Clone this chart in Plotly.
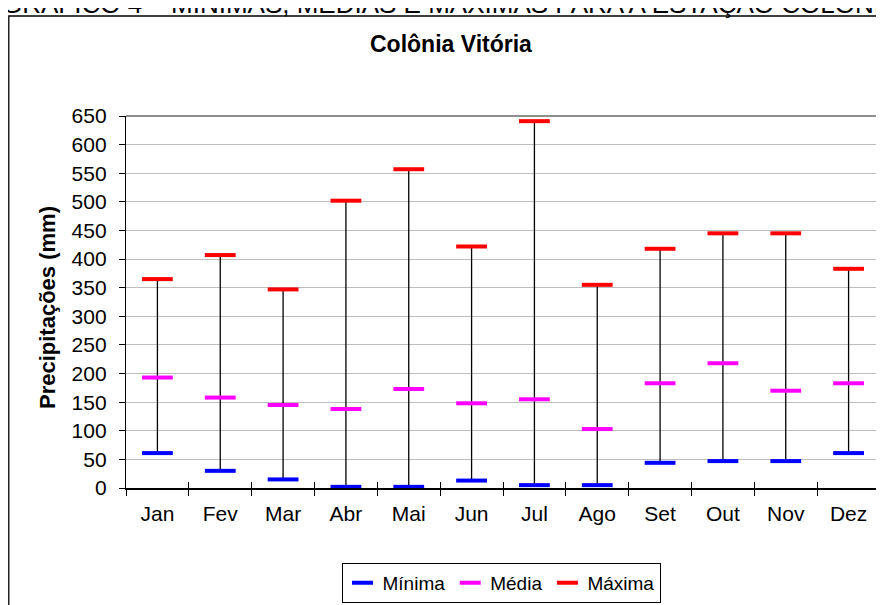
import plotly.graph_objects as go

months = ["Jan", "Fev", "Mar", "Abr", "Mai", "Jun", "Jul", "Ago", "Set", "Out", "Nov", "Dez"]
minima = [61, 30, 15, 2, 2, 13, 5, 5, 44, 47, 47, 61]
media = [193, 158, 145, 138, 173, 148, 155, 103, 183, 218, 170, 183]
maxima = [365, 407, 347, 502, 557, 422, 641, 355, 418, 445, 445, 383]
y_ticks = list(range(0, 651, 50))

FONT = "Liberation Sans, Arial, sans-serif"
W, H = 884, 605
OFF = 8  # page body margin of the html page
# plot area in screen pixels
SX0, SX1, SY0, SY1 = 126, 880, 116, 488
ML, MT = SX0 - OFF, SY0 - OFF
MR, MB = W - (SX1 - OFF), H - (SY1 - OFF)
PW, PH = SX1 - SX0, SY1 - SY0


def px_x(s):
    return (s - SX0) / PW


def px_y(s):
    return (SY1 - s) / PH


fig = go.Figure()

# vertical range lines (min -> max)
vx, vy = [], []
for m, lo, hi in zip(months, minima, maxima):
    vx += [m, m, None]
    vy += [lo, hi, None]
fig.add_trace(go.Scatter(x=vx, y=vy, mode="lines", line=dict(color="black", width=1.3),
                         showlegend=False, hoverinfo="skip"))

series = [("Mínima", minima, "#0000FF"), ("Média", media, "#FF00FF"),
          ("Máxima", maxima, "#FF0000")]
for name, vals, col in series:
    fig.add_trace(go.Scatter(x=months, y=vals, mode="markers", name=name, showlegend=False,
                             marker=dict(symbol="line-ew", size=22,
                                         line=dict(color=col, width=4), color=col)))
# legend entries (shorter symbols like the reference)
for name, vals, col in series:
    fig.add_trace(go.Scatter(x=[None], y=[None], mode="markers", name=name,
                             marker=dict(symbol="line-ew", size=15,
                                         line=dict(color=col, width=4), color=col)))

# invisible helper trace for crossing ticks axis
fig.add_trace(go.Scatter(x=[-0.5, 11.5], y=[0, 0], xaxis="x2", mode="markers",
                         marker=dict(opacity=0), showlegend=False, hoverinfo="skip"))

fig.update_layout(
    width=W, height=H,
    margin=dict(l=ML, r=MR, t=MT, b=MB, autoexpand=False),
    paper_bgcolor="white", plot_bgcolor="white",
    font=dict(family=FONT, size=21, color="black"),
    xaxis=dict(type="category", categoryorder="array", categoryarray=months,
               range=[-0.5, 11.5], showgrid=False, showline=True, linecolor="black",
               linewidth=1.5, ticks="outside", ticklen=6, tickcolor="black", tickwidth=1.3,
               tickson="boundaries", tickfont=dict(size=21), ticklabelstandoff=6,
               zeroline=False, automargin=False),
    xaxis2=dict(overlaying="x", anchor="y", range=[-0.5, 11.5], showgrid=False,
                showline=False, ticks="inside", ticklen=6, tickcolor="black", tickwidth=1.3,
                tickmode="array", tickvals=[i - 0.5 for i in range(len(months) + 1)],
                showticklabels=False, zeroline=False, side="bottom"),
    yaxis=dict(range=[0, 650], tickmode="array", tickvals=y_ticks,
               showgrid=True, gridcolor="#bdbdbd", gridwidth=1,
               showline=True, linecolor="black", linewidth=1.3,
               ticks="outside", ticklen=6, tickcolor="black", tickwidth=1.3,
               tickfont=dict(size=21), ticklabelstandoff=8, zeroline=False,
               automargin=False),
    legend=dict(orientation="h", x=px_x(501), y=px_y(563), xanchor="center", yanchor="top",
                bordercolor="black", borderwidth=1, font=dict(size=19),
                tracegroupgap=0, bgcolor="white"),
    showlegend=True,
)

# outer frame
fig.add_shape(type="rect", xref="paper", yref="paper",
              x0=px_x(8.8), x1=px_x(900), y0=px_y(700), y1=px_y(16),
              line=dict(color="black", width=1.3), layer="below")
# plot area top and right border (gray)
fig.add_shape(type="line", xref="paper", yref="paper", x0=0, x1=1, y0=1, y1=1,
              line=dict(color="#8f8f8f", width=2))
fig.add_shape(type="line", xref="paper", yref="paper", x0=1, x1=1, y0=0, y1=1,
              line=dict(color="#8f8f8f", width=2))

# page header (cut at the top)
fig.add_annotation(text="GRÁFICO 4 – MÍNIMAS, MÉDIAS E MÁXIMAS PARA A ESTAÇÃO COLÔNIA VITÓRIA",
                   xref="paper", yref="paper", x=px_x(0), y=px_y(4.5), xanchor="left",
                   yanchor="middle", showarrow=False, font=dict(size=26, family=FONT))
# chart title
fig.add_annotation(text="<b>Colônia Vitória</b>", xref="paper", yref="paper",
                   x=px_x(451), y=px_y(44), xanchor="center", yanchor="middle",
                   showarrow=False, font=dict(size=23, family=FONT))
# y axis title
fig.add_annotation(text="<b>Precipitações (mm)</b>", xref="paper", yref="paper",
                   x=px_x(47), y=px_y(308), xanchor="center", yanchor="middle",
                   textangle=-90, showarrow=False, font=dict(size=22, family=FONT))

fig.write_html("out.html")
